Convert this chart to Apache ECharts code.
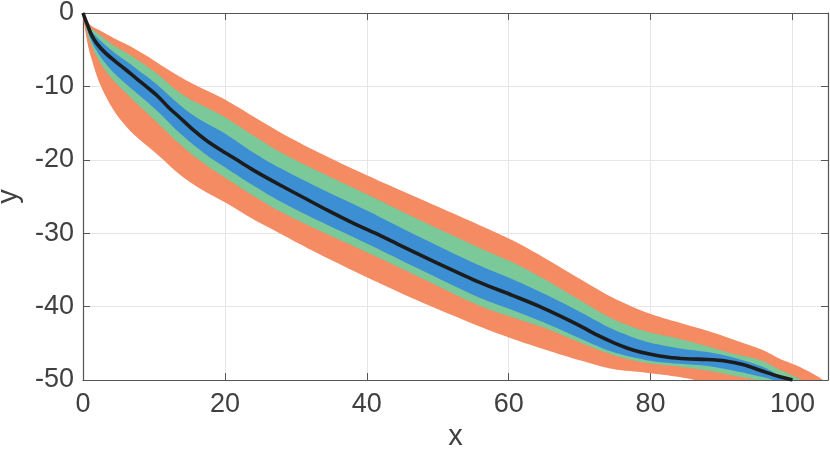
<!DOCTYPE html>
<html>
<head>
<meta charset="utf-8">
<script src="https://cdn.jsdelivr.net/npm/echarts@6/dist/echarts.min.js"></script>
<style>
html,body{margin:0;padding:0;background:#fff;}
#chart{width:830px;height:449px;}
</style>
</head>
<body>
<div id="chart"></div>
<script>
// Tick labels
const xTicks = [0, 20, 40, 60, 80, 100];
const yTicks = [-50, -40, -30, -20, -10, 0];

// Mean curve [x, y]
const meanLine = [[0,0],[0.3,-0.8],[0.7,-1.8],[1.2,-3],[1.9,-4.1],[3,-5.3],[4.3,-6.4],[6,-7.7],[7.5,-8.9],[8.9,-10],[10.5,-11.3],[12,-12.8],[13.7,-14.3],[15.5,-15.9],[17.3,-17.3],[19.3,-18.6],[21.5,-19.9],[24,-21.4],[27.7,-23.4],[31,-25.1],[34.5,-26.9],[38,-28.6],[41.2,-30],[45,-31.8],[50,-34.1],[55.9,-36.7],[60.6,-38.5],[64.4,-40],[67.5,-41.4],[70,-42.6],[72.5,-43.9],[75,-45],[77.5,-45.9],[80,-46.5],[82.5,-46.9],[85,-47.1],[88,-47.2],[90.5,-47.4],[93,-47.9],[95.5,-48.7],[98,-49.5],[100,-50]];

// Outer band (orange)
const orangeUpper = [[0,0],[1,-1.6],[2.4,-2.4],[4.3,-3.4],[6.6,-4.5],[8.9,-5.8],[10.85,-7],[13,-8.3],[15,-9.4],[17.5,-10.6],[20,-11.8],[24,-14.1],[27.7,-16.2],[33,-18.9],[40,-22.1],[47,-25.1],[55.9,-28.9],[60.6,-31],[65.3,-33.5],[70,-36.2],[74.7,-38.8],[79.4,-40.8],[84.1,-42.2],[88,-43.3],[91.1,-44.3],[95.8,-45.9],[98.2,-47.1],[100.5,-48],[102.8,-49.1],[104.3,-50],[106,-51.5]];
const orangeLower = [[0,0],[0.5,-3.4],[1,-5.6],[2.4,-9.7],[4.3,-13.2],[6.6,-16],[8.9,-18],[10.85,-19.6],[13,-21.5],[15,-23],[17.5,-24.5],[20,-25.8],[24,-28.1],[27.7,-30],[33,-32.7],[40,-36],[47,-39.1],[55.9,-42.7],[60.6,-44.4],[65.3,-45.9],[70,-47.3],[74.7,-48.5],[79.4,-49],[84.1,-49.6],[88,-50.5],[91.1,-52]];

// Middle band (green)
const greenUpper = [[0,0],[1,-1.9],[2.4,-3],[4.3,-4.4],[6.6,-5.7],[8.9,-7.2],[10.85,-8.6],[13,-10.4],[15,-11.7],[17.5,-12.9],[20,-14.2],[24,-16.7],[27.7,-18.9],[33,-21.5],[40,-24.7],[47,-28],[55.9,-32],[60.6,-34],[65.3,-36.4],[70,-39.1],[74.7,-41.7],[79.4,-43.4],[84.1,-44.4],[88,-45.4],[91.1,-46.3],[95.8,-47.4],[98.2,-48.6],[100.5,-49.6],[101.5,-50.2],[103,-51]];
const greenLower = [[0,0],[1,-3.9],[2.4,-6.7],[4.3,-9.2],[6.6,-11.4],[8.9,-13.5],[10.85,-15.3],[13,-17.3],[15,-19],[17.5,-20.8],[20,-22.4],[24,-24.9],[27.7,-27],[33,-29.5],[40,-32.6],[47,-35.8],[55.9,-39.9],[60.6,-41.5],[65.3,-43],[70,-44.9],[74.7,-46.6],[79.4,-47.7],[84.1,-48.2],[88,-48.7],[91.1,-49.3],[95.8,-50.2],[97.5,-51]];

// Inner band (blue)
const blueUpper = [[0,0],[1,-2.2],[2.4,-3.7],[4.3,-5.3],[6.6,-6.9],[8.9,-8.6],[10.85,-10.1],[13,-12],[15,-13.6],[17.5,-15.1],[20,-16.4],[24,-19],[27.7,-21.1],[33,-23.7],[40,-26.9],[47,-30.3],[55.9,-34.4],[60.6,-36.3],[65.3,-38.4],[70,-40.7],[74.7,-43.1],[79.4,-44.8],[84.1,-45.7],[88,-46.2],[91.1,-46.8],[95.8,-48.2],[98.2,-49.4],[100.5,-50.2],[101.5,-51]];
const blueLower = [[0,0],[1,-3.4],[2.4,-5.9],[4.3,-8.1],[6.6,-10.1],[8.9,-12],[10.85,-13.7],[13,-15.8],[15,-17.5],[17.5,-19.4],[20,-21],[24,-23.5],[27.7,-25.6],[33,-28.2],[40,-31.4],[47,-34.7],[55.9,-38.8],[60.6,-40.5],[65.3,-42.3],[70,-44.3],[74.7,-46.2],[79.4,-47.3],[84.1,-47.8],[88,-48.1],[91.1,-48.6],[95.8,-49.6],[97.5,-50.1],[99,-51]];

const bands = [
  {name: 'outer', upper: orangeUpper, lower: orangeLower, color: '#F58B62'},
  {name: 'middle', upper: greenUpper, lower: greenLower, color: '#7BC899'},
  {name: 'inner', upper: blueUpper, lower: blueLower, color: '#3C8FD2'}
];

const chart = echarts.init(document.getElementById('chart'), null, {renderer: 'canvas'});
const axisColor = '#555555';
const labelColor = '#404040';
const font = 'Liberation Sans, Helvetica, Arial, sans-serif';

function bandSeries(b) {
  return {
    type: 'custom',
    name: b.name,
    clip: true,
    silent: true,
    data: [0],
    renderItem: function (params, api) {
      const pts = [];
      b.upper.forEach(p => pts.push(api.coord(p)));
      b.lower.slice(1).reverse().forEach(p => pts.push(api.coord(p)));
      return {
        type: 'polygon',
        shape: {points: pts, smooth: 0.3},
        style: {fill: b.color, stroke: null}
      };
    },
    z: 2
  };
}

const option = {
  animation: false,
  backgroundColor: '#ffffff',
  grid: {left: 83, right: 2, top: 13, bottom: 69, containLabel: false, outerBoundsMode: 'none'},
  xAxis: [{
    type: 'value', min: xTicks[0], max: 105, interval: xTicks[1] - xTicks[0],
    position: 'bottom',
    name: 'x', nameLocation: 'middle', nameGap: 35,
    nameTextStyle: {fontSize: 29, color: labelColor, fontFamily: font},
    axisLine: {show: true, onZero: false, lineStyle: {color: axisColor, width: 1.2}},
    axisTick: {show: true, inside: true, length: 7, lineStyle: {color: axisColor}},
    axisLabel: {fontSize: 27, color: labelColor, fontFamily: font, margin: 11, showMaxLabel: false,
      formatter: v => xTicks.indexOf(v) >= 0 ? String(v) : ''},
    splitLine: {show: true, lineStyle: {color: '#e6e6e6', width: 1}}
  }, {
    type: 'value', min: xTicks[0], max: 105, interval: xTicks[1] - xTicks[0],
    position: 'top',
    axisLine: {show: true, onZero: false, lineStyle: {color: axisColor, width: 1.2}},
    axisTick: {show: true, inside: true, length: 7, lineStyle: {color: axisColor}},
    axisLabel: {show: false},
    splitLine: {show: false}
  }],
  yAxis: [{
    type: 'value', min: yTicks[0], max: yTicks[yTicks.length - 1], interval: yTicks[1] - yTicks[0],
    position: 'left',
    name: 'y', nameLocation: 'middle', nameGap: 60, nameRotate: 90,
    nameTextStyle: {fontSize: 29, color: labelColor, fontFamily: font},
    axisLine: {show: true, onZero: false, lineStyle: {color: axisColor, width: 1.2}},
    axisTick: {show: true, inside: true, length: 7, lineStyle: {color: axisColor}},
    axisLabel: {fontSize: 27, color: labelColor, fontFamily: font, margin: 9},
    splitLine: {show: true, lineStyle: {color: '#e6e6e6', width: 1}}
  }, {
    type: 'value', min: yTicks[0], max: yTicks[yTicks.length - 1], interval: yTicks[1] - yTicks[0],
    position: 'right',
    axisLine: {show: true, onZero: false, lineStyle: {color: axisColor, width: 1.2}},
    axisTick: {show: true, inside: true, length: 7, lineStyle: {color: axisColor}},
    axisLabel: {show: false},
    splitLine: {show: false}
  }],
  series: bands.map(bandSeries).concat([{
    type: 'line',
    name: 'mean',
    data: meanLine,
    smooth: 0.3,
    symbol: 'none',
    clip: true,
    lineStyle: {color: '#1c1c1c', width: 3.6},
    z: 5
  }])
};
chart.setOption(option);
</script>
</body>
</html>
